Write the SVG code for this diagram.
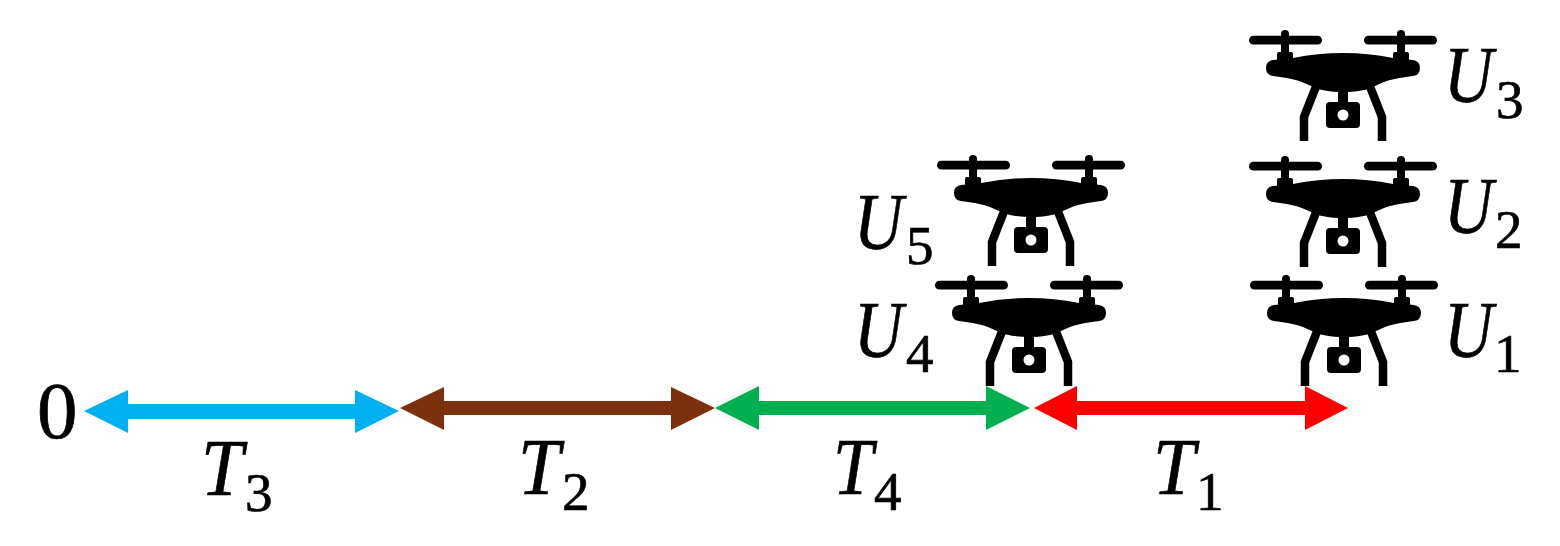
<svg xmlns="http://www.w3.org/2000/svg" width="1560" height="546" viewBox="0 0 1560 546">
<style>
text{font-family:"Liberation Serif","Times New Roman",serif;fill:#000;stroke:#000;stroke-width:.7}
.v{font-size:81px;font-style:italic}
.s{font-size:55px;font-style:normal}
.z{font-size:81px}
</style>
<defs>
<g id="drone">
<rect x="-94" y="-4.2" width="73" height="8.8" rx="4.4" fill="#000"/>
<rect x="21" y="-4.2" width="73" height="8.8" rx="4.4" fill="#000"/>
<rect x="-62" y="-10" width="8" height="30" rx="4" fill="#000"/>
<rect x="54" y="-10" width="8" height="30" rx="4" fill="#000"/>
<path d="M-66 14Q-66 12 -64 12H-52Q-50 12 -50 14V22H-66ZM50 14Q50 12 52 12H64Q66 12 66 14V22H50Z" fill="#000"/>
<path d="M-50 18Q0 8 50 18L70 20Q77 21 77 28Q77 35 70 36C55 38 46 39 32 46C18 54 -18 54 -32 46C-46 39 -55 38 -70 36Q-77 35 -77 28Q-77 21 -70 20Z" fill="#000"/>
<path d="M-26 44L-39 77V101M26 44L39 77V101" fill="none" stroke="#000" stroke-width="8.5"/>
<rect x="-5" y="50" width="10" height="14" fill="#000"/>
<rect x="-17" y="62" width="34" height="26" rx="4" fill="#000"/>
<circle cx="0" cy="75" r="5.5" fill="#fff"/>
</g>
</defs>
<g id="connectors">
<path id="c-t3" fill="#00b0f0" d="M84 411L128 390V404H355V390L399 411L355 433V419H128V433Z"/>
<path id="c-t2" fill="#7b310e" d="M400 408L444 387V401H671V387L715 408L671 430V415H444V430Z"/>
<path id="c-t4" fill="#00b050" d="M715 408L759 386V401H986V386L1030 408L986 430V415H759V430Z"/>
<path id="c-t1" fill="#ff0000" d="M1034 408L1077 386V401H1305V386L1348 408L1305 430V415H1077V430Z"/>
</g>
<g id="u3"><use href="#drone" x="1343" y="40"/><text class="v" x="1444" y="102"><tspan textLength="49" lengthAdjust="spacingAndGlyphs">U</tspan><tspan class="s" x="1496" y="118">3</tspan></text></g>
<g id="u2"><use href="#drone" x="1343" y="166"/><text class="v" x="1444" y="233"><tspan textLength="49" lengthAdjust="spacingAndGlyphs">U</tspan><tspan class="s" x="1495" y="248">2</tspan></text></g>
<g id="u1"><use href="#drone" x="1344" y="285"/><text class="v" x="1444" y="357"><tspan textLength="49" lengthAdjust="spacingAndGlyphs">U</tspan><tspan class="s" x="1494" y="372">1</tspan></text></g>
<g id="u5"><use href="#drone" x="1031" y="165"/><text class="v" x="854" y="249"><tspan textLength="49" lengthAdjust="spacingAndGlyphs">U</tspan><tspan class="s" x="906" y="264">5</tspan></text></g>
<g id="u4"><use href="#drone" x="1029" y="285"/><text class="v" x="854" y="357"><tspan textLength="49" lengthAdjust="spacingAndGlyphs">U</tspan><tspan class="s" x="906" y="372">4</tspan></text></g>
<g id="origin"><text class="z" x="37" y="438">0</text></g>
<g id="t3"><text class="v" x="201" y="495"><tspan textLength="42" lengthAdjust="spacingAndGlyphs">T</tspan><tspan class="s" x="245" y="511">3</tspan></text></g>
<g id="t2"><text class="v" x="518" y="494"><tspan textLength="42" lengthAdjust="spacingAndGlyphs">T</tspan><tspan class="s" x="562" y="510">2</tspan></text></g>
<g id="t4"><text class="v" x="833" y="494"><tspan textLength="40" lengthAdjust="spacingAndGlyphs">T</tspan><tspan class="s" x="874" y="510">4</tspan></text></g>
<g id="t1"><text class="v" x="1153" y="494"><tspan textLength="42" lengthAdjust="spacingAndGlyphs">T</tspan><tspan class="s" x="1196" y="510">1</tspan></text></g>
</svg>
